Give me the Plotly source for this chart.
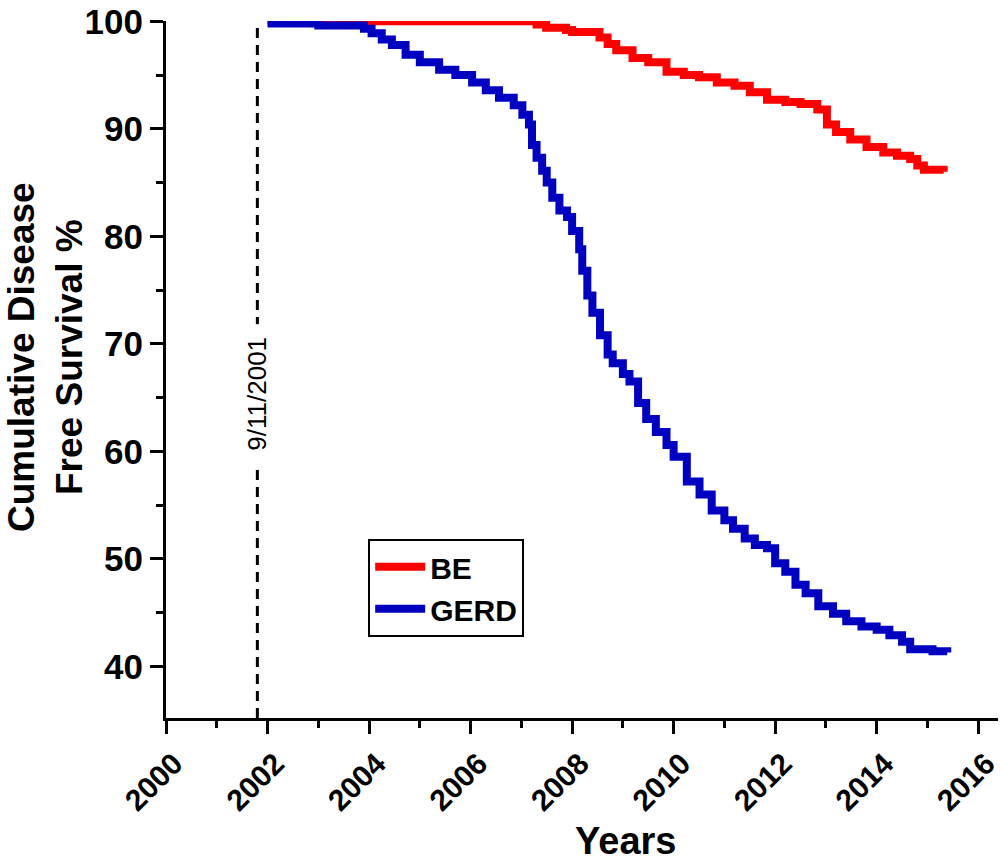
import plotly.graph_objects as go

# Kaplan-Meier curves (year, cumulative disease free survival %)
gerd_years = [2002.0, 2003.0, 2003.9, 2004.05, 2004.25, 2004.45, 2004.72, 2005.0, 2005.38, 2005.7,
              2006.03, 2006.3, 2006.56, 2006.85, 2007.02, 2007.15, 2007.21, 2007.3, 2007.41, 2007.5,
              2007.61, 2007.75, 2007.9, 2008.0, 2008.14, 2008.2, 2008.3, 2008.4, 2008.55, 2008.7,
              2008.8, 2009.0, 2009.13, 2009.3, 2009.46, 2009.65, 2009.86, 2010.0, 2010.26, 2010.51,
              2010.75, 2011.0, 2011.17, 2011.4, 2011.6, 2011.84, 2012.0, 2012.2, 2012.4, 2012.6,
              2012.85, 2013.14, 2013.4, 2013.7, 2014.0, 2014.25, 2014.5, 2014.66, 2014.9, 2015.1,
              2015.39]
gerd_surv = [99.8, 99.6, 99.3, 98.9, 98.3, 97.8, 96.9, 96.2, 95.5, 95.0,
             94.3, 93.6, 92.9, 92.2, 91.3, 90.4, 88.5, 87.3, 86.1, 85.0,
             83.6, 82.4, 81.8, 80.5, 78.8, 76.8, 74.5, 72.9, 70.8, 69.0,
             68.2, 67.2, 66.5, 64.5, 63.0, 61.8, 60.6, 59.5, 57.2, 56.0,
             54.5, 53.6, 52.8, 51.9, 51.3, 51.0, 49.6, 48.8, 47.6, 46.8,
             45.6, 44.9, 44.2, 43.7, 43.4, 42.9, 42.3, 41.6, 41.6, 41.4,
             41.3]

be_years = [2002.0, 2007.15, 2007.3, 2007.49, 2007.88, 2008.0, 2008.54, 2008.7, 2008.87, 2009.19,
            2009.5, 2009.86, 2010.2, 2010.5, 2010.85, 2011.2, 2011.5, 2011.84, 2012.2, 2012.5,
            2012.83, 2013.02, 2013.2, 2013.48, 2013.8, 2014.13, 2014.4, 2014.66, 2014.8, 2014.93,
            2015.32]
be_surv = [100.0, 100.0, 99.7, 99.4, 99.2, 99.0, 98.5, 97.9, 97.3, 96.6,
           96.2, 95.3, 95.0, 94.8, 94.3, 94.0, 93.4, 92.7, 92.5, 92.3,
           91.8, 90.4, 89.7, 89.0, 88.3, 87.8, 87.5, 87.2, 86.6, 86.2,
           86.0]

event_year = 2001.8
event_label = "9/11/2001"

FONT = "Arial, Liberation Sans, sans-serif"

fig = go.Figure()

fig.add_trace(go.Scatter(x=be_years, y=be_surv, mode="lines", name="BE",
                         line=dict(color="#ff0000", width=8, shape="hv")))
fig.add_trace(go.Scatter(x=gerd_years, y=gerd_surv, mode="lines", name="GERD",
                         line=dict(color="#0000c0", width=8, shape="hv")))

# dashed marker line for 9/11/2001
fig.add_shape(type="line", xref="x", yref="y", x0=event_year, x1=event_year, y0=35.2, y1=100,
              line=dict(color="black", width=3, dash="10px,7px"))
fig.add_annotation(x=event_year, y=65.4, xref="x", yref="y", text=event_label, textangle=-90,
                   showarrow=False, bgcolor="white", borderpad=12,
                   font=dict(family=FONT, size=26, color="black"))

# axis titles as annotations for placement control
fig.add_annotation(x=0.552, y=-0.177, xref="paper", yref="paper", text="Years", showarrow=False,
                   xanchor="center", yanchor="middle",
                   font=dict(family=FONT, size=38, color="black", weight="bold"))
fig.add_annotation(x=-0.1442, y=0.518, xref="paper", yref="paper",
                   text="Cumulative Disease<br>Free Survival %", textangle=-90, showarrow=False,
                   xanchor="center", yanchor="middle",
                   font=dict(family=FONT, size=37, color="black", weight="bold"))

fig.update_layout(
    width=1000, height=862,
    margin=dict(l=166, r=2, t=21, b=144),
    plot_bgcolor="white", paper_bgcolor="white",
    font=dict(family=FONT, color="black"),
    showlegend=True,
    legend=dict(x=0.243, y=0.257, xanchor="left", yanchor="top",
                bgcolor="white", bordercolor="black", borderwidth=2,
                font=dict(family=FONT, size=30, color="black", weight="bold"),
                itemwidth=50, tracegroupgap=0),
)

fig.update_xaxes(range=[2000, 2016.39], tick0=2000, dtick=2, tickangle=-45, automargin=False,
                 showline=True, linecolor="black", linewidth=3, showgrid=False, zeroline=False,
                 ticks="outside", ticklen=13, tickwidth=3, tickcolor="black",
                 ticklabeloverflow="allow", ticklabelshift=8,
                 tickfont=dict(family=FONT, size=30, color="black", weight="bold"),
                 minor=dict(dtick=1, ticks="outside", ticklen=7, tickwidth=3, tickcolor="black"))
fig.update_yaxes(range=[35.2, 100.03], tick0=40, dtick=10, automargin=False,
                 showline=True, linecolor="black", linewidth=3, showgrid=False, zeroline=False,
                 ticks="outside", ticklen=13, tickwidth=3, tickcolor="black",
                 ticklabeloverflow="allow",
                 tickfont=dict(family=FONT, size=35, color="black", weight="bold"),
                 minor=dict(dtick=5, ticks="outside", ticklen=7, tickwidth=3, tickcolor="black"))

# drop the default body margin so the figure sits at the page corner
fig.write_html("out.html", config={"displayModeBar": False},
               post_script="document.body.style.margin='0';")
